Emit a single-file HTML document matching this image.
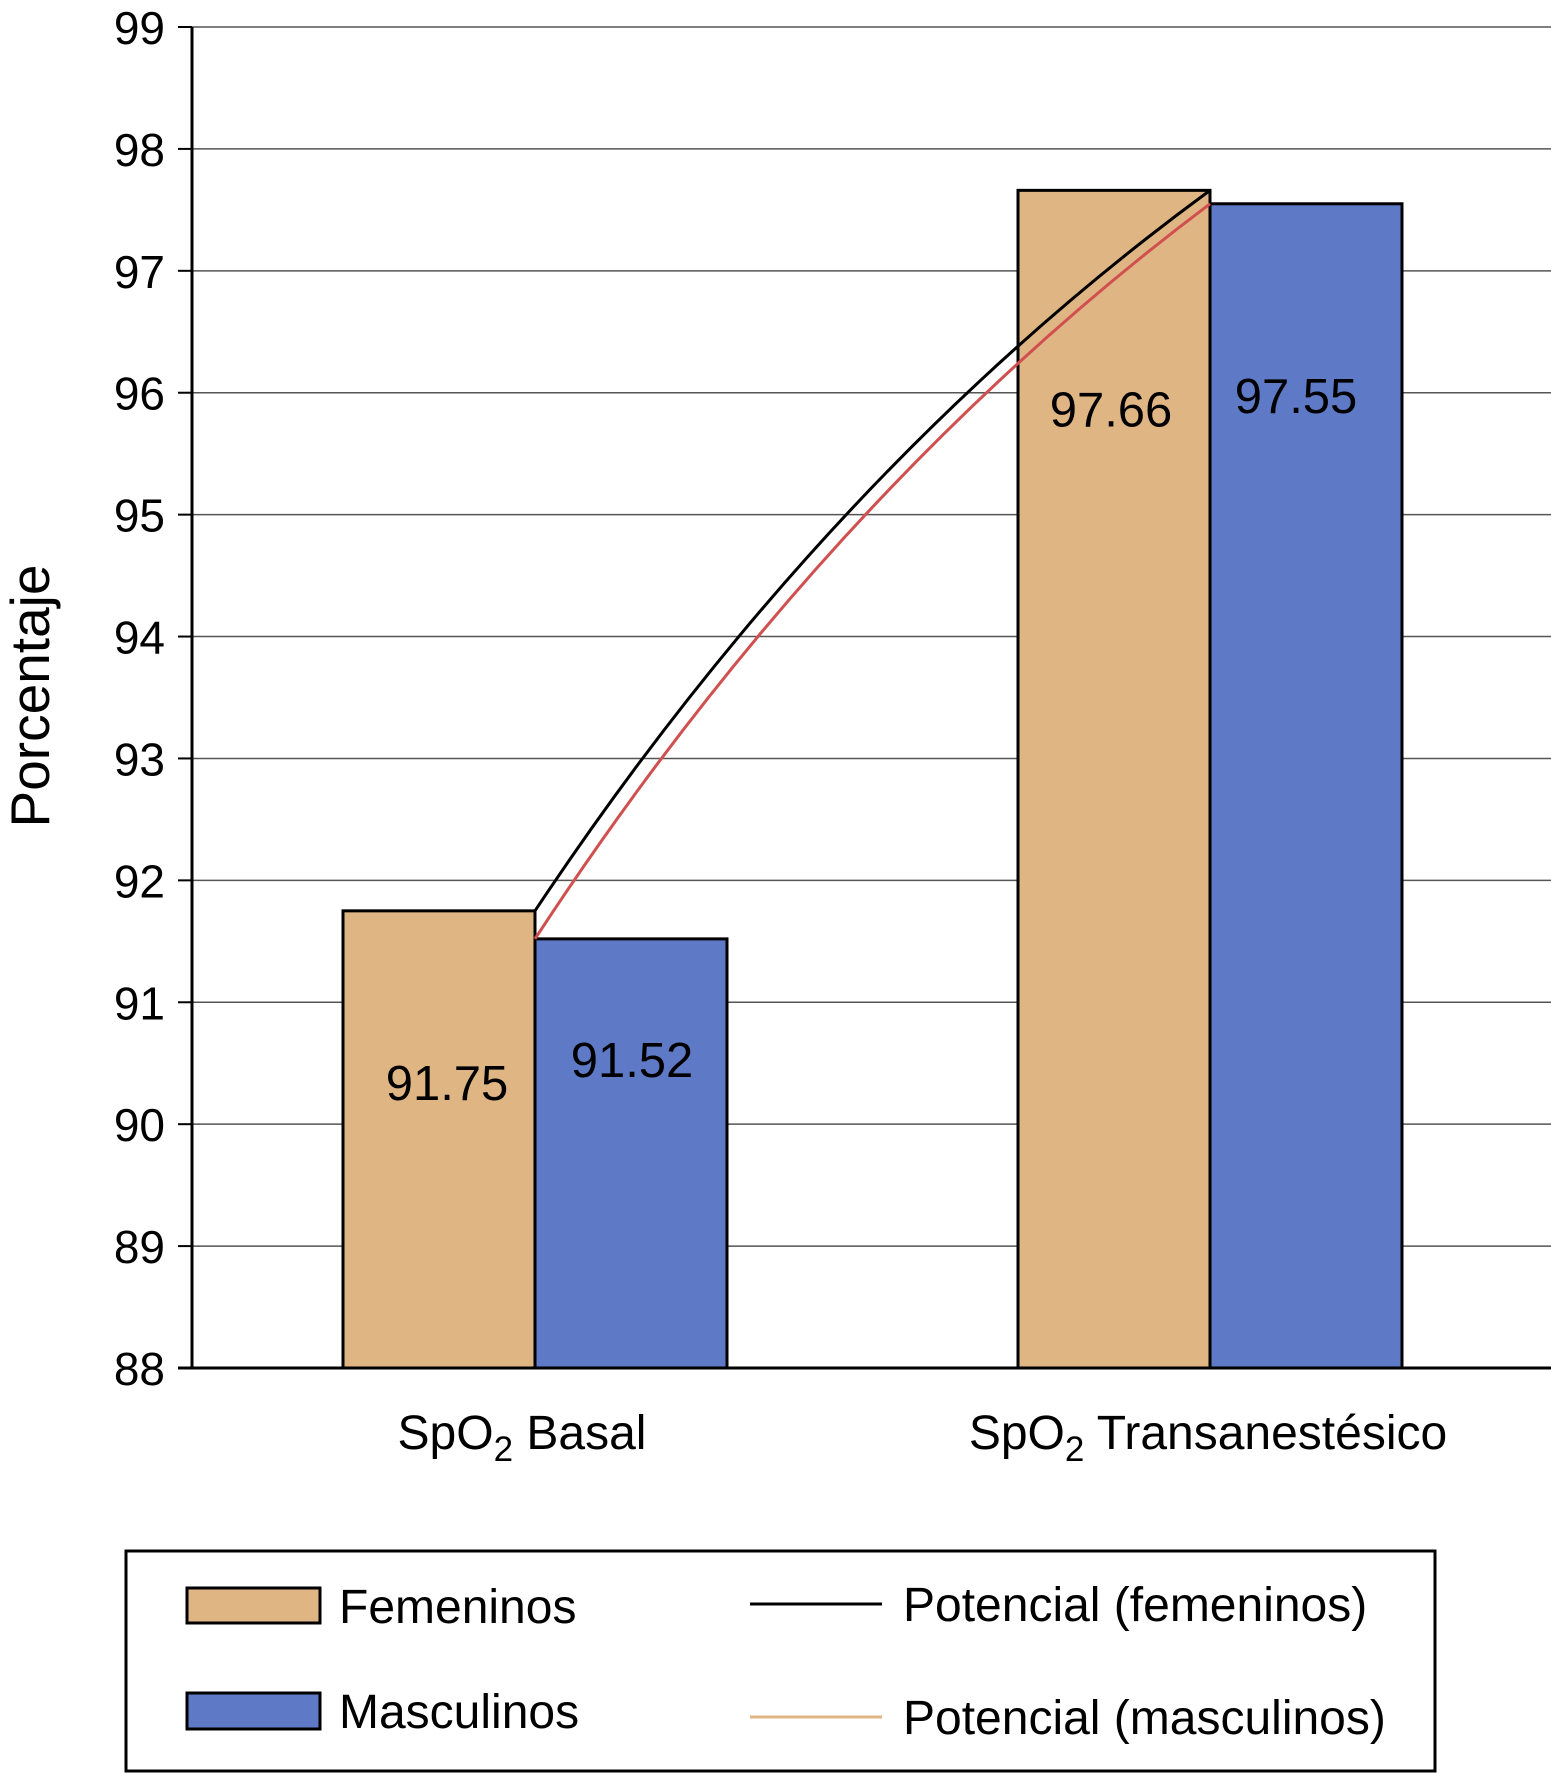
<!DOCTYPE html>
<html><head><meta charset="utf-8"><style>
body{margin:0;background:#fff}
svg{display:block;font-family:"Liberation Sans",sans-serif}
</style></head><body>
<svg id="chart" width="1551" height="1774" viewBox="0 0 1551 1774">
<g id="grid"></g>
<g id="bars"></g>
<g id="trends"></g>
<g id="axes"></g>
<text x="49" y="696" font-size="55" text-anchor="middle" transform="rotate(-90 49 696)">Porcentaje</text>
<text x="522" y="1449" font-size="48" text-anchor="middle">SpO<tspan font-size="35" dy="12">2</tspan><tspan dy="-12"> Basal</tspan></text>
<text x="1208" y="1449" font-size="48" text-anchor="middle">SpO<tspan font-size="35" dy="12">2</tspan><tspan dy="-12"> Transanestésico</tspan></text>
<g>
<rect x="126" y="1551" width="1309" height="220" fill="#fff" stroke="#000" stroke-width="3"/>
<rect x="187" y="1588" width="133" height="35" fill="#e0b584" stroke="#000" stroke-width="3"/>
<text x="339" y="1623" font-size="48">Femeninos</text>
<rect x="187" y="1693" width="133" height="36" fill="#5e79c5" stroke="#000" stroke-width="3"/>
<text x="339" y="1728" font-size="48">Masculinos</text>
<line x1="750" y1="1604" x2="882" y2="1604" stroke="#000" stroke-width="3"/>
<text x="903" y="1621" font-size="48">Potencial (femeninos)</text>
<line x1="750" y1="1717" x2="882" y2="1717" stroke="#e0b584" stroke-width="3"/>
<text x="903" y="1734" font-size="48">Potencial (masculinos)</text>
</g>
</svg>
<script>
const categories = ["SpO2 Basal", "SpO2 Transanestésico"];
const femeninos = [91.75, 97.66];
const masculinos = [91.52, 97.55];
const yTicks = [88, 89, 90, 91, 92, 93, 94, 95, 96, 97, 98, 99];

const NS = "http://www.w3.org/2000/svg";
const X0 = 192, X1 = 1551, Y0 = 1368, Y1 = 27, YMIN = 88, YMAX = 99;
function y(v){ return Y0 - (v - YMIN) / (YMAX - YMIN) * (Y0 - Y1); }
const groupStart = [343, 1018];
const barW = 192;
function mk(tag, attrs, parent){
  const e = document.createElementNS(NS, tag);
  for (const k in attrs) e.setAttribute(k, attrs[k]);
  parent.appendChild(e); return e;
}
const grid = document.getElementById('grid');
const axes = document.getElementById('axes');
yTicks.forEach(t => {
  if (t !== YMIN) {
    const l = mk('line', {x1: X0, x2: X1, y1: y(t), y2: y(t), stroke: '#555', 'stroke-width': 1.5}, grid);
    
    
  }
  const tk = mk('line', {x1: X0 - 14, x2: X0, y1: y(t), y2: y(t), stroke: '#000', 'stroke-width': 2}, axes);
  
  
  const tx = mk('text', {x: 165, y: y(t) + 17, 'font-size': 46, 'text-anchor': 'end'}, axes);
  tx.textContent = t;
  
  
});
const ya = mk('line', {x1: X0, x2: X0, y1: Y1, y2: Y0, stroke: '#000', 'stroke-width': 3}, axes);


const xa = mk('line', {x1: X0 - 14, x2: X1, y1: Y0, y2: Y0, stroke: '#000', 'stroke-width': 3}, axes);



const bars = document.getElementById('bars');
const labDyF = [189, 236], labDyM = [138, 209];
const labDxF = [8, -3], labDxM = [1, -10];
categories.forEach((c, i) => {
  const xf = groupStart[i], xm = groupStart[i] + barW;
  const bf = mk('rect', {x: xf, y: y(femeninos[i]), width: barW, height: Y0 - y(femeninos[i]), fill: '#e0b584', stroke: '#000', 'stroke-width': 3}, bars);
  
  
  const bm = mk('rect', {x: xm, y: y(masculinos[i]), width: barW, height: Y0 - y(masculinos[i]), fill: '#5e79c5', stroke: '#000', 'stroke-width': 3}, bars);
  
  
  const lf = mk('text', {x: xf + barW / 2 + labDxF[i], y: y(femeninos[i]) + labDyF[i], 'font-size': 49, 'text-anchor': 'middle'}, bars);
  lf.textContent = femeninos[i].toFixed(2);
  
  
  const lm = mk('text', {x: xm + barW / 2 + labDxM[i], y: y(masculinos[i]) + labDyM[i], 'font-size': 49, 'text-anchor': 'middle'}, bars);
  lm.textContent = masculinos[i].toFixed(2);
  
  
});

const trends = document.getElementById('trends');
function curve(vals, color, name){
  const xa0 = groupStart[0] + barW, xa1 = groupStart[1] + barW;
  const ya0 = y(vals[0]), ya1 = y(vals[1]);
  const mx = (xa0 + xa1) / 2, my = (ya0 + ya1) / 2;
  const cx = mx - 45, cy = my - 80;
  const p = mk('path', {d: `M${xa0},${ya0} Q${cx},${cy} ${xa1},${ya1}`, fill: 'none', stroke: color, 'stroke-width': 3}, trends);
  
  
}
curve(femeninos, '#000', 'trend-femeninos');
curve(masculinos, '#d05050', 'trend-masculinos');
</script>
</body></html>
